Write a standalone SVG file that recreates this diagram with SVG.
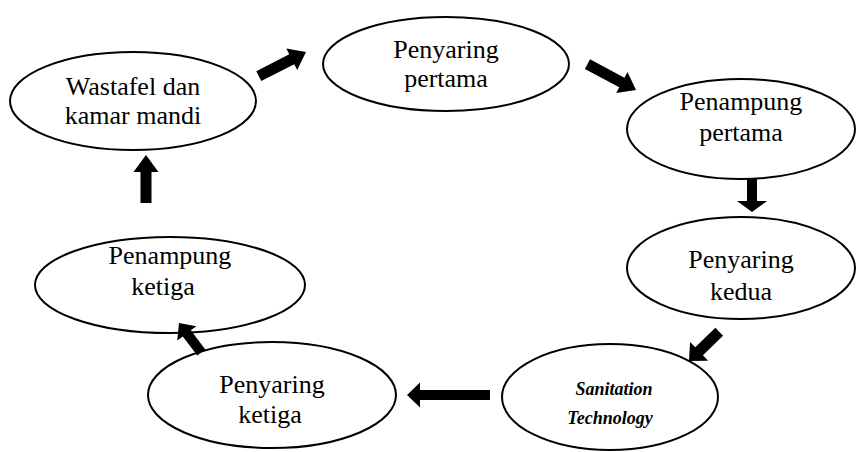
<svg xmlns="http://www.w3.org/2000/svg" width="861" height="452" viewBox="0 0 861 452">
<style>
.n ellipse{fill:#fff;stroke:#000;stroke-width:2}
#connectors polygon{fill:#000}
</style>
<rect width="861" height="452" fill="#fff"/>
<g id="node-wastafel" class="n"><ellipse cx="133" cy="101" rx="123" ry="49"/><g font-family="Liberation Serif" font-size="26" text-anchor="middle"><text x="133" y="95">Wastafel dan</text><text x="133" y="124">kamar mandi</text></g></g>
<g id="node-penyaring-pertama" class="n"><ellipse cx="446" cy="64" rx="123" ry="47"/><g font-family="Liberation Serif" font-size="26" text-anchor="middle"><text x="446" y="58">Penyaring</text><text x="446" y="87">pertama</text></g></g>
<g id="node-penampung-pertama" class="n"><ellipse cx="741" cy="129" rx="114" ry="50"/><g font-family="Liberation Serif" font-size="26" text-anchor="middle"><text x="741" y="110">Penampung</text><text x="741" y="141">pertama</text></g></g>
<g id="node-penyaring-kedua" class="n"><ellipse cx="741" cy="268" rx="114" ry="51"/><g font-family="Liberation Serif" font-size="26" text-anchor="middle"><text x="741" y="268">Penyaring</text><text x="741" y="300">kedua</text></g></g>
<g id="node-sanitation" class="n"><ellipse cx="610" cy="397" rx="108" ry="53"/><g font-family="Liberation Serif" font-size="18" font-weight="bold" font-style="italic" text-anchor="middle"><text x="614" y="395">Sanitation</text><text x="610" y="424">Technology</text></g></g>
<g id="node-penyaring-ketiga" class="n"><ellipse cx="272" cy="395" rx="124" ry="53"/><g font-family="Liberation Serif" font-size="26" text-anchor="middle"><text x="272" y="393">Penyaring</text><text x="270" y="423">ketiga</text></g></g>
<g id="node-penampung-ketiga" class="n"><ellipse cx="170" cy="285" rx="135" ry="48"/><g font-family="Liberation Serif" font-size="26" text-anchor="middle"><text x="170" y="264">Penampung</text><text x="163" y="295">ketiga</text></g></g>
<g id="connectors">
<polygon transform="translate(306,52) rotate(-27)" points="-53,-5.5 -16,-5.5 -16,-12 0,0 -16,12 -16,5.5 -53,5.5"/>
<polygon transform="translate(636,90) rotate(28)" points="-55,-5.5 -16,-5.5 -16,-12 0,0 -16,12 -16,5.5 -55,5.5"/>
<polygon transform="translate(752,212) rotate(90)" points="-34,-5 -11,-5 -11,-15 0,0 -11,15 -11,5 -34,5"/>
<polygon transform="translate(689,361) rotate(136)" points="-42,-5.5 -14,-5.5 -14,-13 0,0 -14,13 -14,5.5 -42,5.5"/>
<polygon transform="translate(407,395) rotate(180)" points="-83,-5 -13,-5 -13,-12.5 0,0 -13,12.5 -13,5 -83,5"/>
<polygon transform="translate(179,323) rotate(-127)" points="-37,-5 -13,-5 -13,-12 0,0 -13,12 -13,5 -37,5"/>
<polygon transform="translate(146,155) rotate(-90)" points="-48,-5.5 -17,-5.5 -17,-12.5 0,0 -17,12.5 -17,5.5 -48,5.5"/>
</g>
</svg>
